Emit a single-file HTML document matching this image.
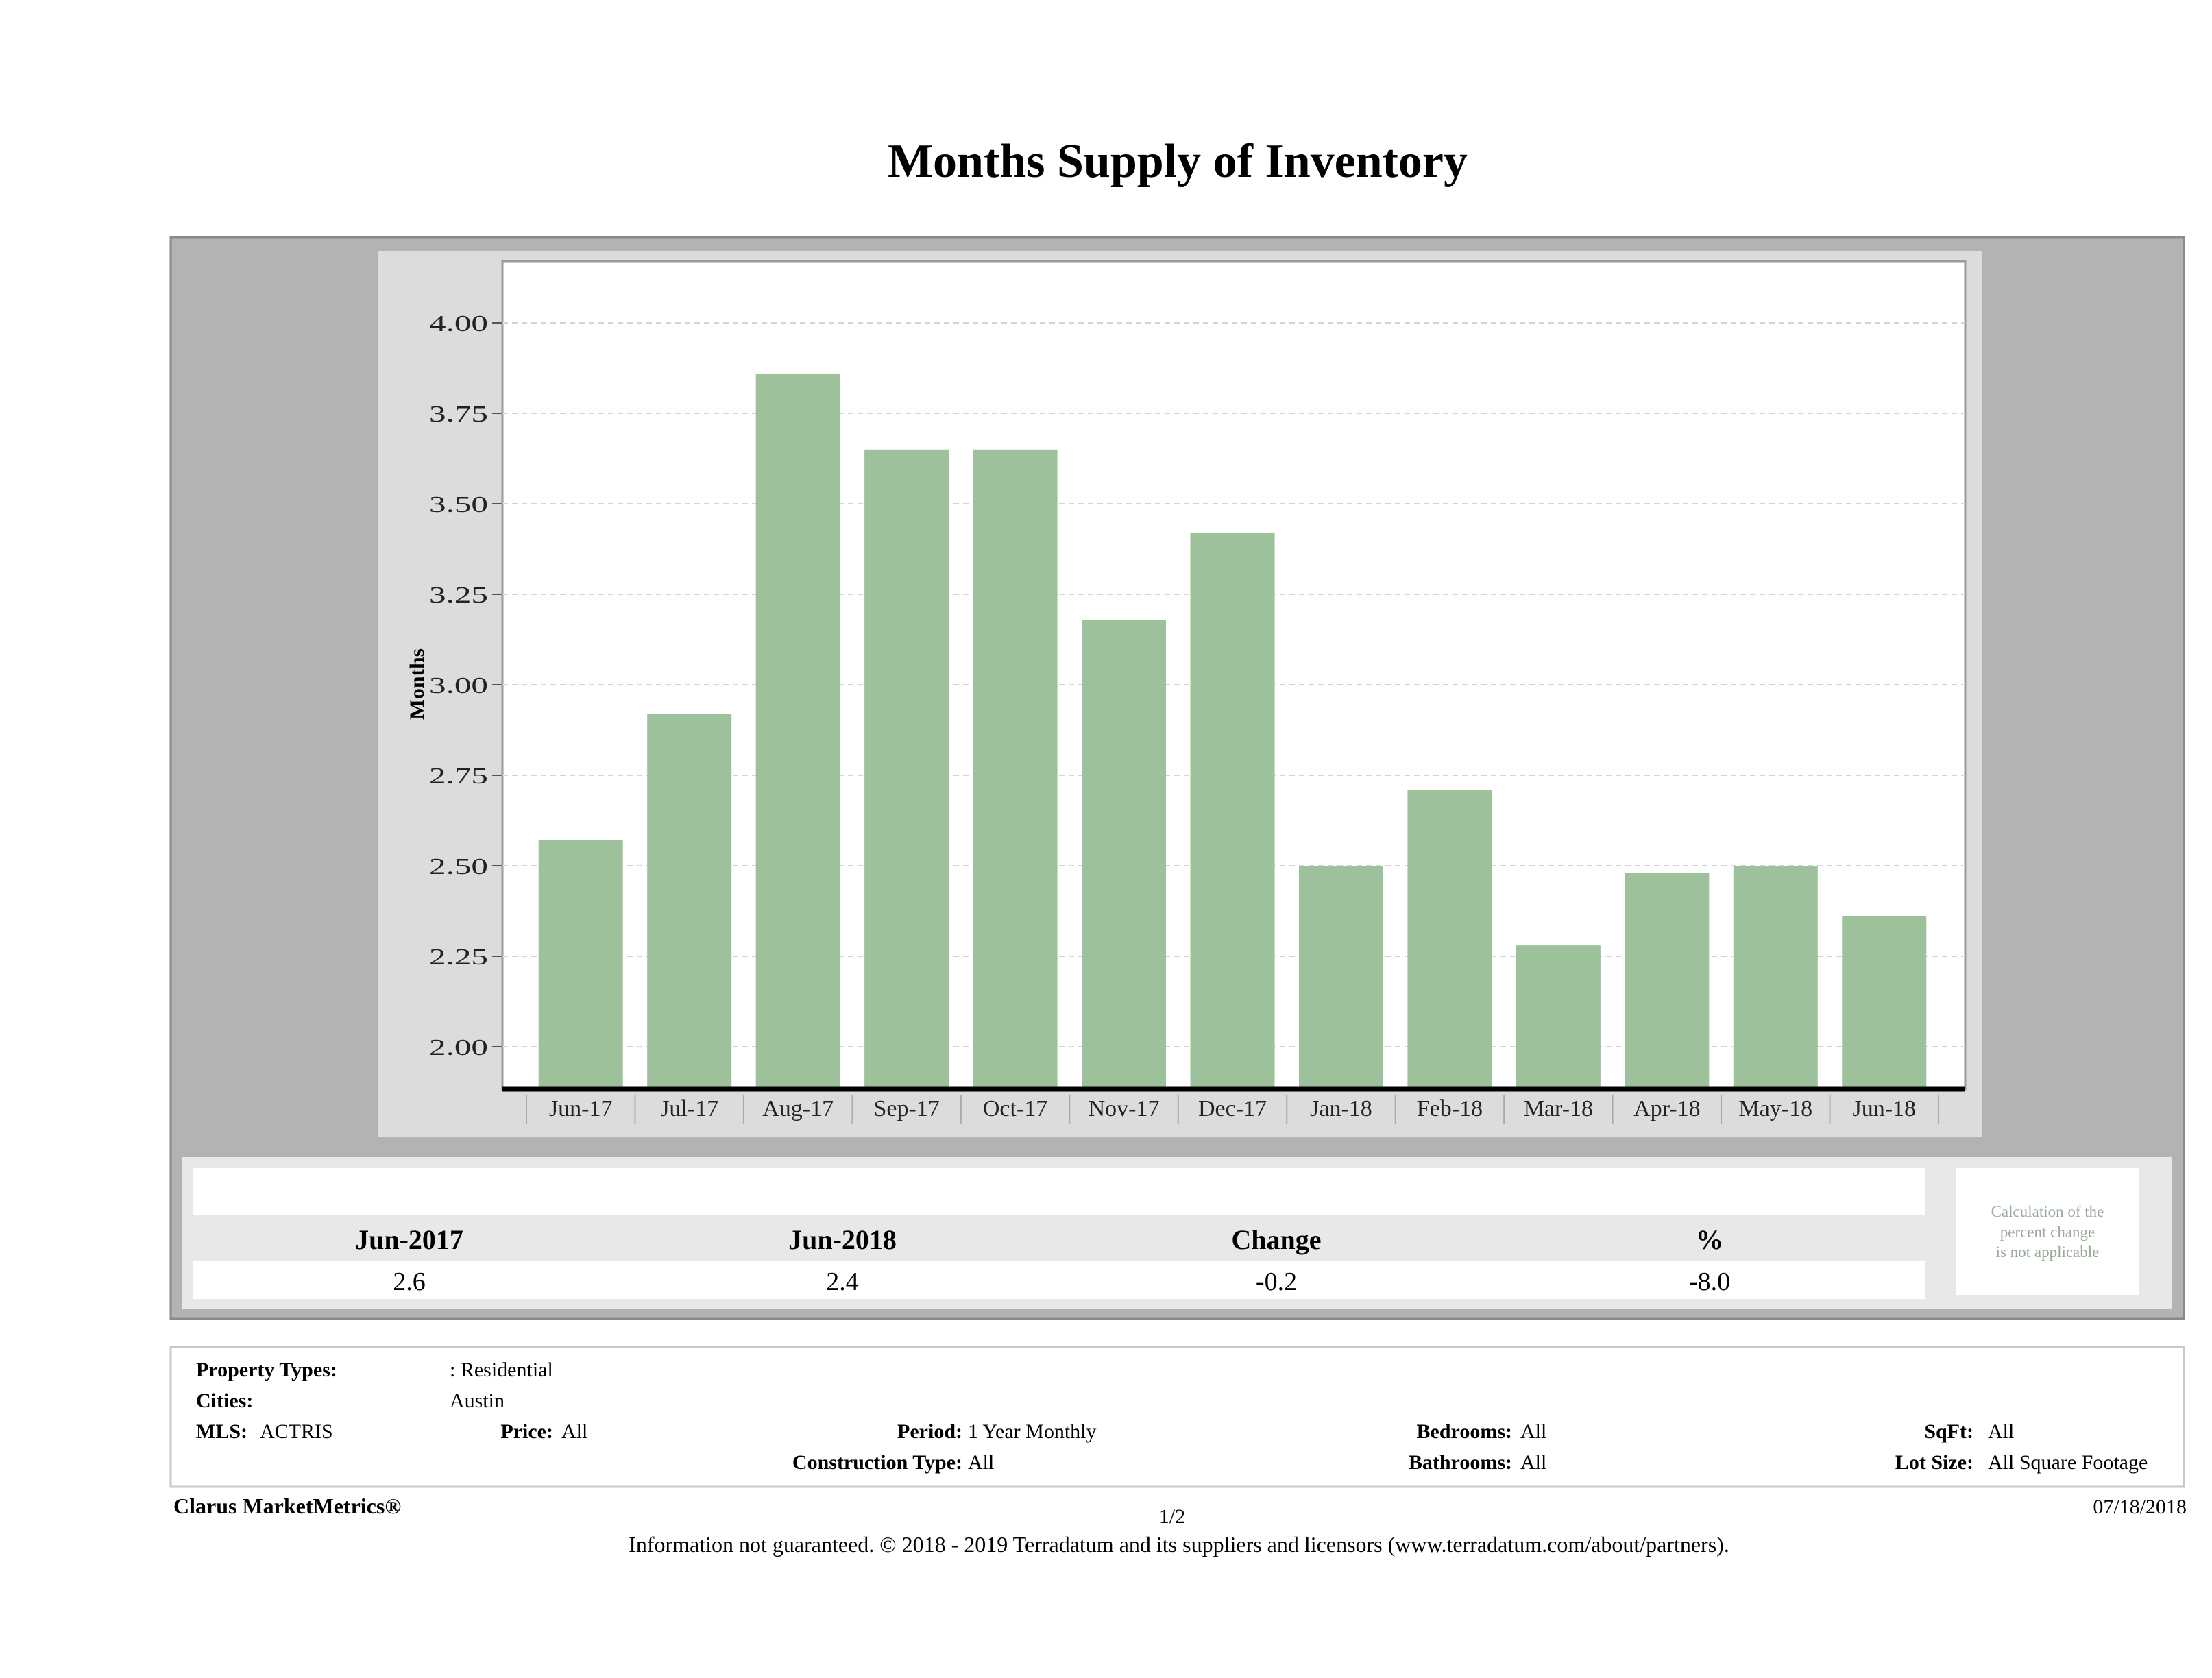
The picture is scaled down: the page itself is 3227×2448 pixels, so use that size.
<!DOCTYPE html>
<html><head><meta charset="utf-8">
<style>
html,body{margin:0;padding:0;background:#fff;}
svg{display:block;font-family:"Liberation Serif",serif;}
</style></head>
<body>
<svg id="page" width="3227" height="2448" viewBox="0 0 3227 2448" xmlns="http://www.w3.org/2000/svg">
  <text x="1718" y="258" font-size="70" font-weight="bold" text-anchor="middle" fill="#000">Months Supply of Inventory</text>
  <rect x="249" y="346" width="2937" height="1578" fill="#b3b3b3" stroke="#8a8a8a" stroke-width="3"/>
  <rect x="552" y="366" width="2340" height="1293" fill="#dcdcdc"/>
  <rect x="733" y="381" width="2134" height="1208" fill="#fff" stroke="#9a9a9a" stroke-width="3"/>
  <g id="grid"></g>
  <g id="bars"></g>
  <g id="yaxis"></g>
  <g id="xaxis"></g>
  <text transform="translate(618,998) rotate(-90)" font-size="30" font-weight="bold" text-anchor="middle" fill="#000" textLength="104" lengthAdjust="spacingAndGlyphs">Months</text>

  <rect x="265" y="1688" width="2904" height="222" fill="#e8e8e8"/>
  <rect x="282" y="1704" width="2527" height="68" fill="#fff"/>
  <rect x="282" y="1840" width="2527" height="55" fill="#fff"/>
  <g font-size="40" font-weight="bold" text-anchor="middle" fill="#000">
    <text x="597" y="1822">Jun-2017</text>
    <text x="1229" y="1822">Jun-2018</text>
    <text x="1862" y="1822">Change</text>
    <text x="2494" y="1822">%</text>
  </g>
  <g font-size="38" text-anchor="middle" fill="#000">
    <text x="597" y="1882">2.6</text>
    <text x="1229" y="1882">2.4</text>
    <text x="1862" y="1882">-0.2</text>
    <text x="2494" y="1882">-8.0</text>
  </g>
  <rect x="2854" y="1704" width="266" height="185" fill="#fff"/>
  <g font-size="23" text-anchor="middle" fill="#9aaa98">
    <text x="2987" y="1775">Calculation of the</text>
    <text x="2987" y="1805">percent change</text>
    <text x="2987" y="1834">is not applicable</text>
  </g>

  <rect x="249" y="1965" width="2937" height="204" fill="#fff" stroke="#c8c8c8" stroke-width="3"/>
  <g font-size="30" fill="#000">
    <text x="286" y="2008" font-weight="bold">Property Types:</text>
    <text x="656" y="2008">: Residential</text>
    <text x="286" y="2053" font-weight="bold">Cities:</text>
    <text x="656" y="2053">Austin</text>
    <text x="286" y="2098" font-weight="bold">MLS:</text>
    <text x="379" y="2098">ACTRIS</text>
    <text x="807" y="2098" font-weight="bold" text-anchor="end">Price:</text>
    <text x="819" y="2098">All</text>
    <text x="1404" y="2098" font-weight="bold" text-anchor="end">Period:</text>
    <text x="1412" y="2098">1 Year Monthly</text>
    <text x="2206" y="2098" font-weight="bold" text-anchor="end">Bedrooms:</text>
    <text x="2218" y="2098">All</text>
    <text x="2879" y="2098" font-weight="bold" text-anchor="end">SqFt:</text>
    <text x="2900" y="2098">All</text>
    <text x="1404" y="2143" font-weight="bold" text-anchor="end">Construction Type:</text>
    <text x="1412" y="2143">All</text>
    <text x="2206" y="2143" font-weight="bold" text-anchor="end">Bathrooms:</text>
    <text x="2218" y="2143">All</text>
    <text x="2879" y="2143" font-weight="bold" text-anchor="end">Lot Size:</text>
    <text x="2900" y="2143">All Square Footage</text>
  </g>
  <text x="253" y="2208" font-size="32" font-weight="bold">Clarus MarketMetrics®</text>
  <text x="1710" y="2222" font-size="30" text-anchor="middle">1/2</text>
  <text x="3190" y="2208" font-size="30" text-anchor="end">07/18/2018</text>
  <text x="1720" y="2264" font-size="32" text-anchor="middle">Information not guaranteed. © 2018 - 2019 Terradatum and its suppliers and licensors (www.terradatum.com/about/partners).</text>
</svg>
<script>
const categories = ["Jun-17","Jul-17","Aug-17","Sep-17","Oct-17","Nov-17","Dec-17","Jan-18","Feb-18","Mar-18","Apr-18","May-18","Jun-18"];
const values = [2.57, 2.92, 3.86, 3.65, 3.65, 3.18, 3.42, 2.50, 2.71, 2.28, 2.48, 2.50, 2.36];
const yTicks = [2.00, 2.25, 2.50, 2.75, 3.00, 3.25, 3.50, 3.75, 4.00];

const NS = "http://www.w3.org/2000/svg";
const plotL = 733, plotR = 2867, axisY = 1589;
const xStart = 768, catW = (2828 - 768) / categories.length, barW = 123;
function y(v){ return 1527 - (v - 2) * 528; }
function x(i){ return xStart + catW * i; }
function mk(tag, attrs, parent){
  const e = document.createElementNS(NS, tag);
  for (const k in attrs) e.setAttribute(k, attrs[k]);
  parent.appendChild(e); return e;
}
const grid = document.getElementById('grid'), bars = document.getElementById('bars'),
      ya = document.getElementById('yaxis'), xa = document.getElementById('xaxis');
yTicks.forEach(t => {
  const g = mk('line', {x1: plotL, x2: plotR, y1: y(t), y2: y(t), stroke: '#d4d4d4', 'stroke-width': 2, 'stroke-dasharray': '8,6'}, grid);
  
  
  const tk = mk('line', {x1: 718, x2: 733, y1: y(t), y2: y(t), stroke: '#555', 'stroke-width': 2}, ya);
  
  
  const lb = mk('text', {x: 712, y: y(t) + 12, 'font-size': 34, 'text-anchor': 'end', fill: '#222', textLength: 86, lengthAdjust: 'spacingAndGlyphs'}, ya);
  lb.textContent = t.toFixed(2);
  
  
});
categories.forEach((c, i) => {
  const cx = x(i) + catW / 2;
  const b = mk('rect', {x: cx - barW / 2, y: y(values[i]), width: barW, height: axisY - y(values[i]), fill: '#9dc19a'}, bars);
  
  
  const lb = mk('text', {x: cx, y: 1628, 'font-size': 34, 'text-anchor': 'middle', fill: '#222'}, xa);
  lb.textContent = c;
  
  
});
for (let i = 0; i <= categories.length; i++) {
  const s = mk('line', {x1: x(i), x2: x(i), y1: 1598, y2: 1640, stroke: '#aaa', 'stroke-width': 2}, xa);
  
  
}
const ax = mk('line', {x1: plotL, x2: plotR, y1: axisY, y2: axisY, stroke: '#000', 'stroke-width': 7}, xa);


</script>
</body></html>
